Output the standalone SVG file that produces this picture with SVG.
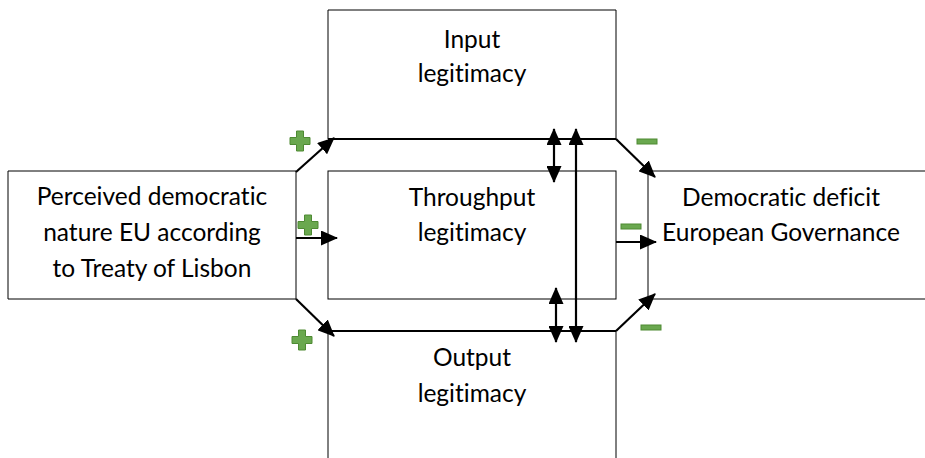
<svg xmlns="http://www.w3.org/2000/svg" width="925" height="458" viewBox="0 0 925 458">
<style>
.box{fill:#fff;stroke:#000;stroke-width:1}
.t{font-family:Lato,"Open Sans","Liberation Sans",sans-serif;font-size:24.5px;fill:#000;text-anchor:middle;font-variant-ligatures:none}
.c{stroke:#000;stroke-width:2.2;fill:none}
.plus{fill:#6aa84f;stroke:#4e8a33;stroke-width:1}
.minus{fill:#6aa84f;stroke:#4e8a33;stroke-width:1}
</style>
<defs>
<marker id="ah" viewBox="0 0 17 15" refX="16" refY="7.5" markerWidth="17" markerHeight="15" orient="auto-start-reverse" markerUnits="userSpaceOnUse">
<path d="M0,0 L17,7.5 L0,15 z" fill="#000"/>
</marker>
<path id="plusShape" d="M-3.5,-10 H3.5 V-3.5 H10 V3.5 H3.5 V10 H-3.5 V3.5 H-10 V-3.5 H-3.5 Z"/>
</defs>
<rect width="925" height="458" fill="#fff"/>
<g id="input"><path class="box" d="M328,139 V10 H616 V139"/><text class="t" x="472" y="48">Input</text><text class="t" x="472" y="82">legitimacy</text></g>
<g id="throughput"><rect class="box" x="328" y="171" width="288" height="128"/><text class="t" x="472" y="206">Throughput</text><text class="t" x="472" y="241">legitimacy</text></g>
<g id="output"><path class="box" d="M328,458 V331 H616 V458"/><text class="t" x="472" y="366">Output</text><text class="t" x="472" y="402">legitimacy</text></g>
<g id="perceived"><path class="box" d="M8,171 H296 V299 H8 Z"/><text class="t" x="152" y="205">Perceived democratic</text><text class="t" x="152" y="241">nature EU according</text><text class="t" x="152" y="277">to Treaty of Lisbon</text></g>
<g id="deficit"><path class="box" d="M925,171 H648 V299 H925"/><text class="t" x="781" y="206">Democratic deficit</text><text class="t" x="781" y="241">European Governance</text></g>
<g id="connectors">
<path class="c" d="M328,139 H616"/>
<path class="c" d="M328,331 H616"/>
<path class="c" d="M296,172 L334,138" marker-end="url(#ah)"/>
<path class="c" d="M296,238 H337" marker-end="url(#ah)"/>
<path class="c" d="M296,299 L334,336" marker-end="url(#ah)"/>
<path class="c" d="M616,139 L655,177" marker-end="url(#ah)"/>
<path class="c" d="M616,242 H656" marker-end="url(#ah)"/>
<path class="c" d="M616,331 L655,294" marker-end="url(#ah)"/>
<path class="c" d="M554,129 V182" marker-start="url(#ah)" marker-end="url(#ah)"/>
<path class="c" d="M556,288 V342" marker-start="url(#ah)" marker-end="url(#ah)"/>
<path class="c" d="M576,129 V342" marker-start="url(#ah)" marker-end="url(#ah)"/>
</g>
<g id="signs">
<use href="#plusShape" class="plus" x="300" y="141"/>
<use href="#plusShape" class="plus" x="308" y="225"/>
<use href="#plusShape" class="plus" x="302" y="340"/>
<rect class="minus" x="637" y="139" width="20" height="5"/>
<rect class="minus" x="621" y="224" width="20" height="5"/>
<rect class="minus" x="641" y="325" width="20" height="5"/>
</g>
</svg>
